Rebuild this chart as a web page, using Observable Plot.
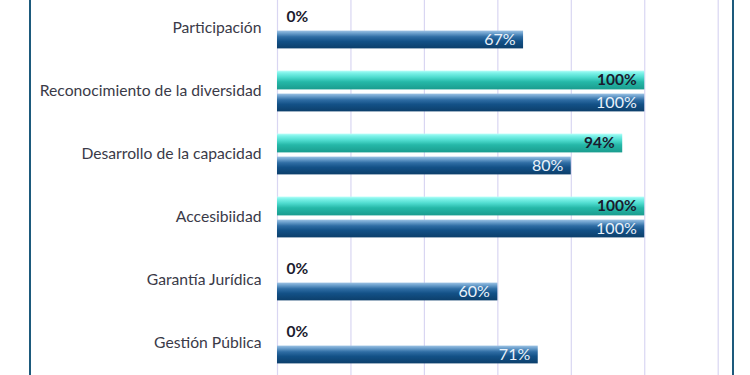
<!DOCTYPE html>
<html>
<head>
<meta charset="utf-8">
<script src="https://cdn.jsdelivr.net/npm/d3@7"></script>
<script src="https://cdn.jsdelivr.net/npm/@observablehq/plot@0.6"></script>
<style>
  html, body { margin: 0; padding: 0; background: #ffffff; }
  #wrap { position: relative; width: 750px; height: 375px; overflow: hidden; }
  #chart { position: absolute; left: 0; top: 0; }
  .border { position: absolute; top: 0; width: 2px; height: 375px; background: #1d5a7c; }
</style>
</head>
<body>
<div id="wrap">
  <div id="chart"></div>
  <div class="border" style="left:29px"></div>
  <div class="border" style="left:732px"></div>
</div>
<script>
const categories = ["Participación", "Reconocimiento de la diversidad", "Desarrollo de la capacidad", "Accesibiidad", "Garantía Jurídica", "Gestión Pública"];
const tealValues = [0, 1.00, 0.94, 1.00, 0, 0];
const blueValues = [0.67, 1.00, 0.80, 1.00, 0.60, 0.71];
const xTicks = [0, 0.2, 0.4, 0.6, 0.8, 1.0, 1.2];

const teal = categories.map((c, i) => ({c, v: tealValues[i]}));
const blue = categories.map((c, i) => ({c, v: blueValues[i]}));
const fmt = v => Math.round(v * 100) + "%";
const font = "Lato, 'Open Sans', sans-serif";

const chart = Plot.plot({
  width: 750,
  height: 375,
  marginLeft: 277,
  marginRight: 32,
  marginTop: 0,
  marginBottom: 0,
  style: {fontFamily: font, background: "transparent", overflow: "visible"},
  x: {domain: [0, 1.2], range: [277, 717.7], axis: null},
  y: {domain: categories, range: [-4.6, 374.6], padding: 0, label: null},
  marks: [
    Plot.gridX(xTicks, {stroke: "#d9d6f2", strokeOpacity: 1, strokeWidth: 1.2}),
    Plot.barX(teal.filter(d => d.v > 0), {
      x: "v", y: "c", fill: "url(#tealGrad)",
      insetTop: 11.6, insetBottom: 32.6,
      style: "filter: drop-shadow(1px 2px 1px rgba(0,0,0,0.28))"
    }),
    Plot.barX(blue, {
      x: "v", y: "c", fill: "url(#blueGrad)",
      insetTop: 34.6, insetBottom: 10.6,
      style: "filter: drop-shadow(1px 2px 1px rgba(0,0,0,0.28))"
    }),
    Plot.text(teal.filter(d => d.v > 0), {
      x: "v", y: "c", text: d => fmt(d.v),
      textAnchor: "end", dx: -8, dy: -10.5,
      fontSize: 15.5, fontWeight: "bold", fill: "#1b1b2e"
    }),
    Plot.text(teal.filter(d => d.v === 0), {
      x: "v", y: "c", text: d => fmt(d.v),
      textAnchor: "start", dx: 9, dy: -10.5,
      fontSize: 15.5, fontWeight: "bold", fill: "#1b1b2e"
    }),
    Plot.text(blue, {
      x: "v", y: "c", text: d => fmt(d.v),
      textAnchor: "end", dx: -8, dy: 12,
      fontSize: 16, fill: "#eaf2fa"
    }),
    Plot.axisY({tickSize: 0, tickPadding: 16, fontSize: 15.7, fill: "#3a3a48", label: null})
  ]
});

// gradient definitions (styling only)
const ns = "http://www.w3.org/2000/svg";
const defs = document.createElementNS(ns, "defs");
function grad(id, stops) {
  const g = document.createElementNS(ns, "linearGradient");
  g.setAttribute("id", id);
  g.setAttribute("x1", "0"); g.setAttribute("y1", "0");
  g.setAttribute("x2", "0"); g.setAttribute("y2", "1");
  stops.forEach(([o, c]) => {
    const s = document.createElementNS(ns, "stop");
    s.setAttribute("offset", o);
    s.setAttribute("stop-color", c);
    g.appendChild(s);
  });
  defs.appendChild(g);
}
grad("tealGrad", [[0, "#b8fff9"], [0.12, "#7ff3ea"], [0.35, "#4fdccf"], [0.6, "#25b8a8"], [1, "#1a9c8e"]]);
grad("blueGrad", [[0, "#9cc2e4"], [0.15, "#6b9fcc"], [0.35, "#2f6da4"], [0.6, "#135187"], [1, "#0c3f6b"]]);
chart.insertBefore(defs, chart.firstChild);

document.getElementById("chart").appendChild(chart);
</script>
</body>
</html>
